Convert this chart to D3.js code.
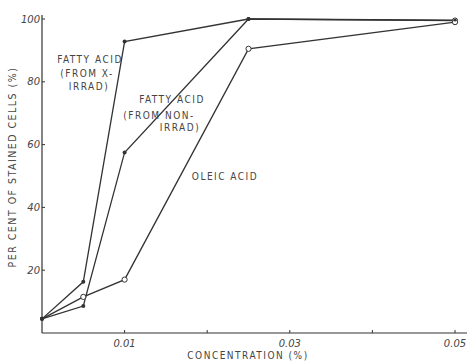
<!DOCTYPE html>
<html>
<head>
<meta charset="utf-8">
<script src="https://cdn.jsdelivr.net/npm/d3@7"></script>
<style>
  html, body { margin: 0; padding: 0; background: #fff; }
  svg { display: block; }
  .lbl { font-family: "DejaVu Sans Condensed", "DejaVu Sans", sans-serif; fill: #444; letter-spacing: 1.5px; }
  .tick-lbl { font-family: "DejaVu Sans", sans-serif; font-style: italic; fill: #444; }
</style>
</head>
<body>
<script>
// Concentration (%) at which each series was measured
const concXIrrad   = [0, 0.005, 0.01, 0.025, 0.05];
const xIrradValues = [4.5, 16.3, 92.8, 100, 99.6];

const concNonIrrad   = [0, 0.005, 0.01, 0.025, 0.05];
const nonIrradValues = [4.5, 8.6, 57.5, 100, 99.5];

const concOleic   = [0, 0.005, 0.01, 0.025, 0.05];
const oleicValues = [4.5, 11.5, 17, 90.5, 99];

const xTickValues = [0.01, 0.02, 0.03, 0.04, 0.05];
const xTickLabels = ["0.01", "", "0.03", "", "0.05"];
const yTickValues = [20, 40, 60, 80, 100];
const yTickLabels = ["20", "40", "60", "80", "100"];

const W = 467, H = 362;
const svg = d3.select("body").append("svg").attr("width", W).attr("height", H);

const x = d3.scaleLinear().domain([0, 0.05]).range([42, 455]);
const y = d3.scaleLinear().domain([0, 100]).range([333, 19]);

const ink = "#333";

// Axes
const gx = svg.append("g").attr("transform", `translate(0,${y(0)})`);
gx.append("line").attr("x1", x(0)).attr("x2", W).attr("stroke", ink).attr("stroke-width", 1.2);
gx.selectAll(".t").data(xTickValues).join("line")
  .attr("x1", d => x(d)).attr("x2", d => x(d)).attr("y1", 0).attr("y2", -3)
  .attr("stroke", ink).attr("stroke-width", 1);
gx.selectAll("text").data(xTickValues).join("text")
  .attr("class", "tick-lbl").attr("font-size", 10)
  .attr("x", d => x(d)).attr("y", 14).attr("text-anchor", "middle")
  .text((d, i) => xTickLabels[i]);

const gy = svg.append("g").attr("transform", `translate(${x(0)},0)`);
gy.append("line").attr("y1", 15).attr("y2", y(0)).attr("stroke", ink).attr("stroke-width", 1.2);
gy.selectAll(".t").data(yTickValues).join("line")
  .attr("x1", 0).attr("x2", 3).attr("y1", d => y(d)).attr("y2", d => y(d))
  .attr("stroke", ink).attr("stroke-width", 1);
gy.selectAll("text").data(yTickValues).join("text")
  .attr("class", "tick-lbl").attr("font-size", 10)
  .attr("x", -2).attr("y", d => y(d) + 3.5).attr("text-anchor", "end")
  .text((d, i) => yTickLabels[i]);

// Axis titles
svg.append("text").attr("class", "lbl").attr("font-size", 10)
  .attr("x", 248).attr("y", 359).attr("text-anchor", "middle")
  .text("CONCENTRATION  (%)");
svg.append("text").attr("class", "lbl").attr("font-size", 10.5)
  .attr("transform", "translate(16,167) rotate(-90)").attr("text-anchor", "middle")
  .text("PER  CENT  OF  STAINED  CELLS  (%)");

// Series lines
const line = d3.line().x(d => x(d[0])).y(d => y(d[1]));
const series = [
  { conc: concXIrrad, vals: xIrradValues, open: [false, false, false, false, false] },
  { conc: concNonIrrad, vals: nonIrradValues, open: [false, false, false, false, true] },
  { conc: concOleic, vals: oleicValues, open: [false, true, true, true, true] }
];
series.forEach(s => {
  svg.append("path").datum(d3.zip(s.conc, s.vals)).attr("d", line)
    .attr("fill", "none").attr("stroke", ink).attr("stroke-width", 1.3);
});
series.forEach(s => {
  d3.zip(s.conc, s.vals).forEach((d, i) => {
    if (s.open[i]) {
      svg.append("circle").attr("cx", x(d[0])).attr("cy", y(d[1])).attr("r", 2.6)
        .attr("fill", "#fff").attr("stroke", ink).attr("stroke-width", 1);
    } else {
      svg.append("circle").attr("cx", x(d[0])).attr("cy", y(d[1])).attr("r", 2)
        .attr("fill", ink);
    }
  });
});
// dot inside the shared end marker
svg.append("circle").attr("cx", x(0.05)).attr("cy", y(99.6)).attr("r", 1.3).attr("fill", ink);

// Series annotations
const notes = [
  { t: "FATTY ACID", x: 90, y: 63 },
  { t: "(FROM X-", x: 87, y: 77 },
  { t: "IRRAD)", x: 89, y: 90 },
  { t: "FATTY ACID", x: 172, y: 103 },
  { t: "(FROM NON-", x: 159, y: 119 },
  { t: "IRRAD)", x: 180, y: 131 },
  { t: "OLEIC ACID", x: 225, y: 180 }
];
svg.selectAll(".note").data(notes).join("text")
  .attr("class", "lbl").attr("font-size", 10)
  .attr("x", d => d.x).attr("y", d => d.y).attr("text-anchor", "middle")
  .text(d => d.t);
</script>
</body>
</html>
